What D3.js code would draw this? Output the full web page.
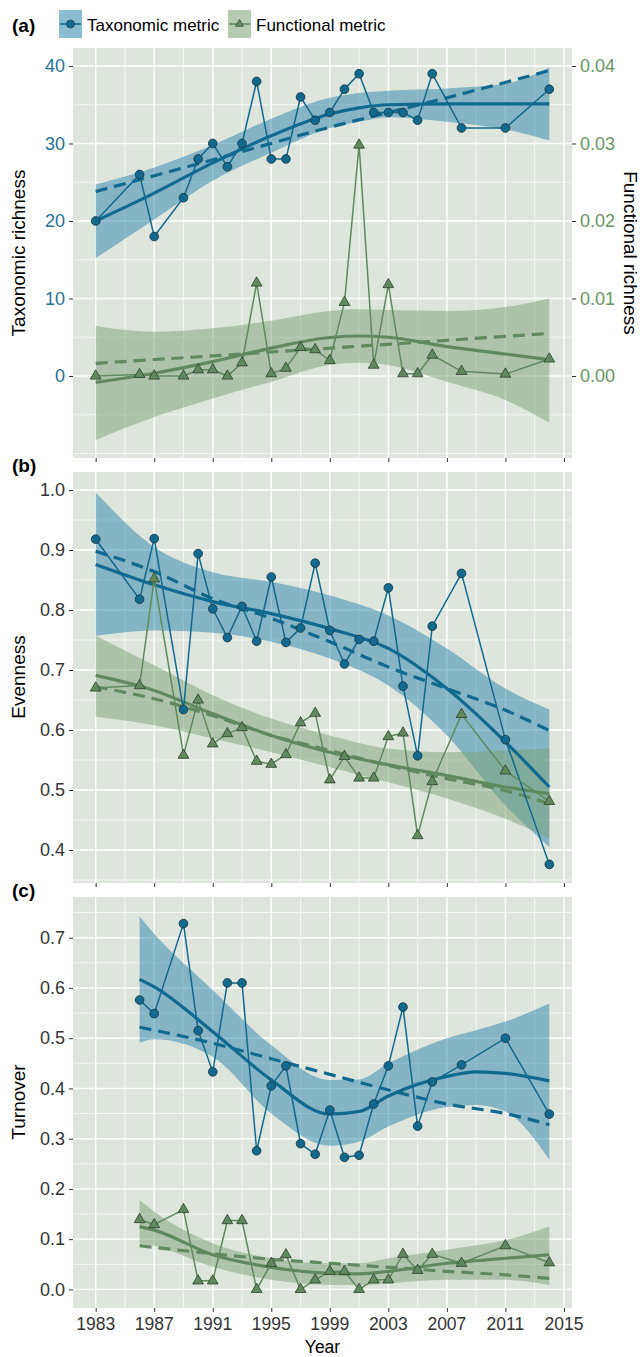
<!DOCTYPE html>
<html>
<head>
<meta charset="utf-8">
<script src="https://cdn.jsdelivr.net/npm/d3@7"></script>
<style>
  body { margin: 0; background: #fff; }
  text { font-family: "Liberation Sans", Arial, sans-serif; }
</style>
</head>
<body>
<div id="chart"></div>
<script>
// ---- observed series ----
const years = [1983, 1986, 1987, 1989, 1990, 1991, 1992, 1993, 1994, 1995, 1996, 1997,
  1998, 1999, 2000, 2001, 2002, 2003, 2004, 2005, 2006, 2008, 2011, 2014];
const turnYears = years.slice(1);

const taxRichness = [20, 26, 18, 23, 28, 30, 27, 30, 38, 28, 28, 36, 33, 34, 37, 39, 34, 34, 34, 33, 39, 32, 32, 37];
const funcRichness = [0.0000, 0.0002, 0.0000, 0.0000, 0.0008, 0.0008, 0.0000, 0.0017, 0.0120, 0.0003, 0.0010, 0.0037,
  0.0034, 0.0020, 0.0095, 0.0298, 0.0014, 0.0118, 0.0003, 0.0003, 0.0027, 0.0006, 0.00025, 0.0022];

const taxEvenness = [0.918, 0.818, 0.919, 0.634, 0.894, 0.802, 0.754, 0.806, 0.748, 0.855, 0.746, 0.770,
  0.878, 0.766, 0.710, 0.751, 0.748, 0.837, 0.673, 0.557, 0.773, 0.861, 0.584, 0.376];
const funcEvenness = [0.670, 0.674, 0.852, 0.558, 0.650, 0.577, 0.594, 0.604, 0.548, 0.543, 0.559, 0.612,
  0.628, 0.517, 0.556, 0.520, 0.520, 0.589, 0.595, 0.424, 0.514, 0.626, 0.532, 0.481];

const taxTurnover = [0.576, 0.549, 0.728, 0.515, 0.433, 0.610, 0.610, 0.276, 0.405, 0.445, 0.290,
  0.269, 0.357, 0.263, 0.267, 0.369, 0.445, 0.562, 0.325, 0.413, 0.447, 0.500, 0.349];
const funcTurnover = [0.139, 0.129, 0.159, 0.017, 0.017, 0.137, 0.137, 0.000, 0.052, 0.069, 0.000,
  0.019, 0.036, 0.036, 0.000, 0.019, 0.019, 0.070, 0.038, 0.070, 0.052, 0.087, 0.053];

// ---- fitted curves (solid = smoother with CI, dashed = linear model) ----
const richFitYears = [1983, 1987, 1991, 1995, 1999, 2001, 2003, 2007, 2011, 2014];
const taxRichFit = [20.0, 23.6, 27.5, 31.0, 33.8, 34.6, 35.0, 35.1, 35.1, 35.1];
const taxRichLo = [15.2, 20.2, 25.2, 28.8, 32.0, 32.8, 33.4, 32.8, 31.8, 30.4];
const taxRichHi = [24.7, 26.9, 29.8, 33.2, 35.9, 36.5, 36.8, 37.1, 37.7, 39.8];
const funcRichFit = [-0.00082, 0.00035, 0.00185, 0.0036, 0.00497, 0.00516, 0.0050, 0.0038, 0.00284, 0.0021];
const funcRichLo = [-0.00826, -0.0053, -0.0029, -0.00074, 0.00142, 0.0017, 0.0014, -0.00074, -0.0031, -0.0060];
const funcRichHi = [0.00645, 0.0057, 0.00615, 0.00714, 0.0084, 0.0086, 0.0085, 0.0084, 0.0089, 0.0100];
const richLinYears = [1983, 1991, 1999, 2007, 2014];
const taxRichLin = [23.8, 27.9, 32.1, 35.9, 39.4];
const funcRichLin = [0.00163, 0.0026, 0.0036, 0.0046, 0.0055];

const evenFitYears = [1983, 1987, 1991, 1995, 1999, 2003, 2007, 2011, 2014];
const taxEvenFit = [0.876, 0.842, 0.814, 0.794, 0.769, 0.736, 0.669, 0.580, 0.505];
const taxEvenLo = [0.757, 0.766, 0.762, 0.747, 0.719, 0.674, 0.591, 0.474, 0.405];
const taxEvenHi = [0.996, 0.905, 0.863, 0.847, 0.824, 0.791, 0.736, 0.669, 0.634];
const funcEvenFit = [0.691, 0.666, 0.627, 0.591, 0.563, 0.542, 0.524, 0.505, 0.494];
const funcEvenLo = [0.622, 0.608, 0.586, 0.563, 0.538, 0.513, 0.486, 0.452, 0.419];
const funcEvenHi = [0.757, 0.708, 0.658, 0.619, 0.591, 0.569, 0.563, 0.566, 0.569];
const taxEvenLin = [0.898, 0.864, 0.819, 0.786, 0.747, 0.705, 0.669, 0.633, 0.599];
const funcEvenLin = [0.672, 0.652, 0.624, 0.591, 0.566, 0.541, 0.519, 0.499, 0.477];

const turnFitYears = [1986, 1987, 1991, 1995, 1999, 2001, 2003, 2007, 2009, 2011, 2014];
const taxTurnFit = [0.617, 0.602, 0.513, 0.417, 0.349, 0.354, 0.385, 0.424, 0.433, 0.430, 0.415];
const taxTurnLo = [0.491, 0.498, 0.463, 0.350, 0.286, 0.294, 0.324, 0.363, 0.367, 0.354, 0.258];
const taxTurnHi = [0.742, 0.708, 0.596, 0.486, 0.417, 0.418, 0.450, 0.500, 0.516, 0.533, 0.569];
const funcTurnFit = [0.125, 0.118, 0.069, 0.044, 0.032, 0.031, 0.036, 0.052, 0.057, 0.062, 0.069];
const funcTurnLo = [0.092, 0.087, 0.045, 0.019, 0.009, 0.009, 0.012, 0.019, 0.019, 0.019, 0.009];
const funcTurnHi = [0.178, 0.155, 0.092, 0.062, 0.052, 0.052, 0.062, 0.079, 0.088, 0.098, 0.125];
const turnLinYears = [1986, 1991, 1995, 1999, 2003, 2007, 2011, 2014];
const taxTurnLin = [0.522, 0.490, 0.459, 0.428, 0.397, 0.369, 0.350, 0.328];
const funcTurnLin = [0.087, 0.071, 0.060, 0.052, 0.044, 0.036, 0.029, 0.022];

const xTicks = [1983, 1987, 1991, 1995, 1999, 2003, 2007, 2011, 2015];
const seriesNames = ["Taxonomic metric", "Functional metric"];

// ---- styling ----
const taxColor = "#11698e", taxFill = "#2b86ab", taxStroke = "#17323e";
const funcColor = "#5f8a5e", funcFill = "#79a275", funcStroke = "#2c3f2b";
const panelBg = "#dee5dd";

const svg = d3.select("#chart").append("svg")
  .attr("width", 644).attr("height", 1357);

const x = d3.scaleLinear().domain([1981.45, 2015.55]).range([73, 572]);

function zip(xs, ys) { return xs.map((d, i) => [d, ys[i]]); }

function drawPanel(top, bottom, y, majors, minors, tickColor, fmt) {
  const g = svg.append("g");
  g.append("rect").attr("x", 73).attr("y", top).attr("width", 499).attr("height", bottom - top)
    .attr("fill", panelBg);
  // minor grid
  g.selectAll(".ymin").data(minors).enter().append("line")
    .attr("x1", 73).attr("x2", 572).attr("y1", d => y(d)).attr("y2", d => y(d))
    .attr("stroke", "#fff").attr("stroke-width", 0.7);
  g.selectAll(".xmin").data(d3.range(1985, 2015, 4)).enter().append("line")
    .attr("y1", top).attr("y2", bottom).attr("x1", d => x(d)).attr("x2", d => x(d))
    .attr("stroke", "#fff").attr("stroke-width", 0.7);
  // major grid
  g.selectAll(".ymaj").data(majors).enter().append("line")
    .attr("x1", 73).attr("x2", 572).attr("y1", d => y(d)).attr("y2", d => y(d))
    .attr("stroke", "#fff").attr("stroke-width", 1.4);
  g.selectAll(".xmaj").data(xTicks).enter().append("line")
    .attr("y1", top).attr("y2", bottom).attr("x1", d => x(d)).attr("x2", d => x(d))
    .attr("stroke", "#fff").attr("stroke-width", 1.4);

  // left axis
  const ax = svg.append("g").attr("transform", "translate(73,0)")
    .call(d3.axisLeft(y).tickValues(majors).tickSize(4).tickPadding(4).tickFormat(fmt));
  ax.select(".domain").remove();
  ax.selectAll(".tick line").attr("stroke", "#333");
  ax.selectAll(".tick text").attr("fill", tickColor).attr("font-size", 18)
    .attr("font-family", "Liberation Sans, Arial, sans-serif");

  // bottom ticks
  const bx = svg.append("g").attr("transform", `translate(0,${bottom})`)
    .call(d3.axisBottom(x).tickValues(xTicks).tickSize(4).tickFormat(""));
  bx.select(".domain").remove();
  bx.selectAll(".tick line").attr("stroke", "#333");
  return bx;
}

function drawFits(y, fitYrs, lo, hi, fit, linYrs, lin, color, fill) {
  const g = svg.append("g");
  const area = d3.area().x(d => x(d[0])).y0(d => y(d[1])).y1(d => y(d[2])).curve(d3.curveMonotoneX);
  g.append("path").datum(fitYrs.map((d, i) => [d, lo[i], hi[i]]))
    .attr("d", area).attr("fill", fill).attr("fill-opacity", 0.5);
  return () => {
    const line = d3.line().x(d => x(d[0])).y(d => y(d[1])).curve(d3.curveMonotoneX);
    svg.append("path").datum(zip(fitYrs, fit)).attr("d", line)
      .attr("fill", "none").attr("stroke", color).attr("stroke-width", 3.2);
    svg.append("path").datum(zip(linYrs, lin)).attr("d", line)
      .attr("fill", "none").attr("stroke", color).attr("stroke-width", 3.2)
      .attr("stroke-dasharray", "12,7");
  };
}

function drawObs(y, yrs, vals, color, stroke, shape) {
  const g = svg.append("g");
  const line = d3.line().x(d => x(d[0])).y(d => y(d[1]));
  g.append("path").datum(zip(yrs, vals)).attr("d", line)
    .attr("fill", "none").attr("stroke", color).attr("stroke-width", 1.5);
  const sym = d3.symbol().type(shape === "circle" ? d3.symbolCircle : d3.symbolTriangle)
    .size(shape === "circle" ? 60 : 50);
  g.selectAll("path.pt").data(zip(yrs, vals)).enter().append("path")
    .attr("class", "pt")
    .attr("transform", d => `translate(${x(d[0])},${y(d[1])})`)
    .attr("d", sym).attr("fill", color).attr("stroke", stroke).attr("stroke-width", 0.8);
}

function drawPair(y, yF, fitYrs, linYrs, tax, func) {
  const t = drawFits(y, fitYrs, tax.lo, tax.hi, tax.fit, linYrs, tax.lin, taxColor, taxFill);
  const f = drawFits(yF, fitYrs, func.lo, func.hi, func.fit, linYrs, func.lin, funcColor, funcFill);
  t(); f();
  drawObs(y, tax.yrs, tax.vals, taxColor, taxStroke, "circle");
  drawObs(yF, func.yrs, func.vals, funcColor, funcStroke, "triangle");
}

// ---- panel (a): richness, two y axes ----
const yA = d3.scaleLinear().domain([-10.58, 42.32]).range([458, 48]);
const yA2 = d3.scaleLinear().domain([-0.01058, 0.04232]).range([458, 48]);
drawPanel(48, 458, yA, [0, 10, 20, 30, 40], [-10, -5, 5, 15, 25, 35], "#1f7393", d3.format("d"));
const rax = svg.append("g").attr("transform", "translate(572,0)")
  .call(d3.axisRight(yA2).tickValues([0, 0.01, 0.02, 0.03, 0.04]).tickSize(4).tickPadding(4)
    .tickFormat(d3.format(".2f")));
rax.select(".domain").remove();
rax.selectAll(".tick line").attr("stroke", "#333");
rax.selectAll(".tick text").attr("fill", "#6a9467").attr("font-size", 18)
  .attr("font-family", "Liberation Sans, Arial, sans-serif");
drawPair(yA, yA2, richFitYears, richLinYears,
  { lo: taxRichLo, hi: taxRichHi, fit: taxRichFit, lin: taxRichLin, yrs: years, vals: taxRichness },
  { lo: funcRichLo, hi: funcRichHi, fit: funcRichFit, lin: funcRichLin, yrs: years, vals: funcRichness });

// ---- panel (b): evenness ----
const yB = d3.scaleLinear().domain([0.345, 1.03]).range([883, 472]);
drawPanel(472, 883, yB, d3.range(0.4, 1.01, 0.1), [0.35, 0.45, 0.55, 0.65, 0.75, 0.85, 0.95], "#333", d3.format(".1f"));
drawPair(yB, yB, evenFitYears, evenFitYears,
  { lo: taxEvenLo, hi: taxEvenHi, fit: taxEvenFit, lin: taxEvenLin, yrs: years, vals: taxEvenness },
  { lo: funcEvenLo, hi: funcEvenHi, fit: funcEvenFit, lin: funcEvenLin, yrs: years, vals: funcEvenness });

// ---- panel (c): turnover ----
const yC = d3.scaleLinear().domain([-0.037, 0.781]).range([1308, 897]);
drawPanel(897, 1308, yC, d3.range(0, 0.71, 0.1), [0.05, 0.15, 0.25, 0.35, 0.45, 0.55, 0.65, 0.75], "#333", d3.format(".1f"));
drawPair(yC, yC, turnFitYears, turnLinYears,
  { lo: taxTurnLo, hi: taxTurnHi, fit: taxTurnFit, lin: taxTurnLin, yrs: turnYears, vals: taxTurnover },
  { lo: funcTurnLo, hi: funcTurnHi, fit: funcTurnFit, lin: funcTurnLin, yrs: turnYears, vals: funcTurnover });

// x tick labels on bottom panel only
svg.append("g").selectAll("text").data(xTicks).enter().append("text")
  .attr("x", d => x(d)).attr("y", 1330).attr("text-anchor", "middle")
  .attr("font-size", 17.5).attr("fill", "#333").text(d => d);

// ---- titles ----
svg.append("text").attr("x", 322.5).attr("y", 1353).attr("text-anchor", "middle")
  .attr("font-size", 17.5).attr("fill", "#000").text("Year");

function yTitle(label, cx, cy, rot) {
  svg.append("text").attr("transform", `translate(${cx},${cy}) rotate(${rot})`)
    .attr("text-anchor", "middle").attr("dy", "0.35em")
    .attr("font-size", 19).attr("fill", "#000").text(label);
}
yTitle("Taxonomic richness", 18, 253, -90);
yTitle("Functional richness", 631, 253, 90);
yTitle("Evenness", 18, 677, -90);
yTitle("Turnover", 18, 1102, -90);

// panel tags
[["(a)", 32], ["(b)", 472], ["(c)", 897]].forEach(([t, yy]) => {
  svg.append("text").attr("x", 12).attr("y", yy).attr("font-size", 19)
    .attr("font-weight", "bold").attr("fill", "#000").text(t);
});

// ---- legend ----
const legend = svg.append("g");
const keys = [
  { name: seriesNames[0], kx: 59, tx: 87, color: taxColor, fill: taxFill, stroke: taxStroke, shape: d3.symbolCircle, size: 50 },
  { name: seriesNames[1], kx: 228, tx: 256, color: funcColor, fill: funcFill, stroke: funcStroke, shape: d3.symbolTriangle, size: 28 }
];
keys.forEach(k => {
  legend.append("rect").attr("x", k.kx).attr("y", 10).attr("width", 23).attr("height", 28)
    .attr("fill", k.fill).attr("fill-opacity", 0.55);
  legend.append("line").attr("x1", k.kx + 1).attr("x2", k.kx + 22).attr("y1", 24).attr("y2", 24)
    .attr("stroke", k.color).attr("stroke-width", 1.5);
  legend.append("path").attr("transform", `translate(${k.kx + 11.5},24)`)
    .attr("d", d3.symbol().type(k.shape).size(k.size)).attr("fill", k.color)
    .attr("stroke", k.stroke).attr("stroke-width", 0.6);
  legend.append("text").attr("x", k.tx).attr("y", 31).attr("font-size", 17)
    .attr("fill", "#000").text(k.name);
});
</script>
</body>
</html>
